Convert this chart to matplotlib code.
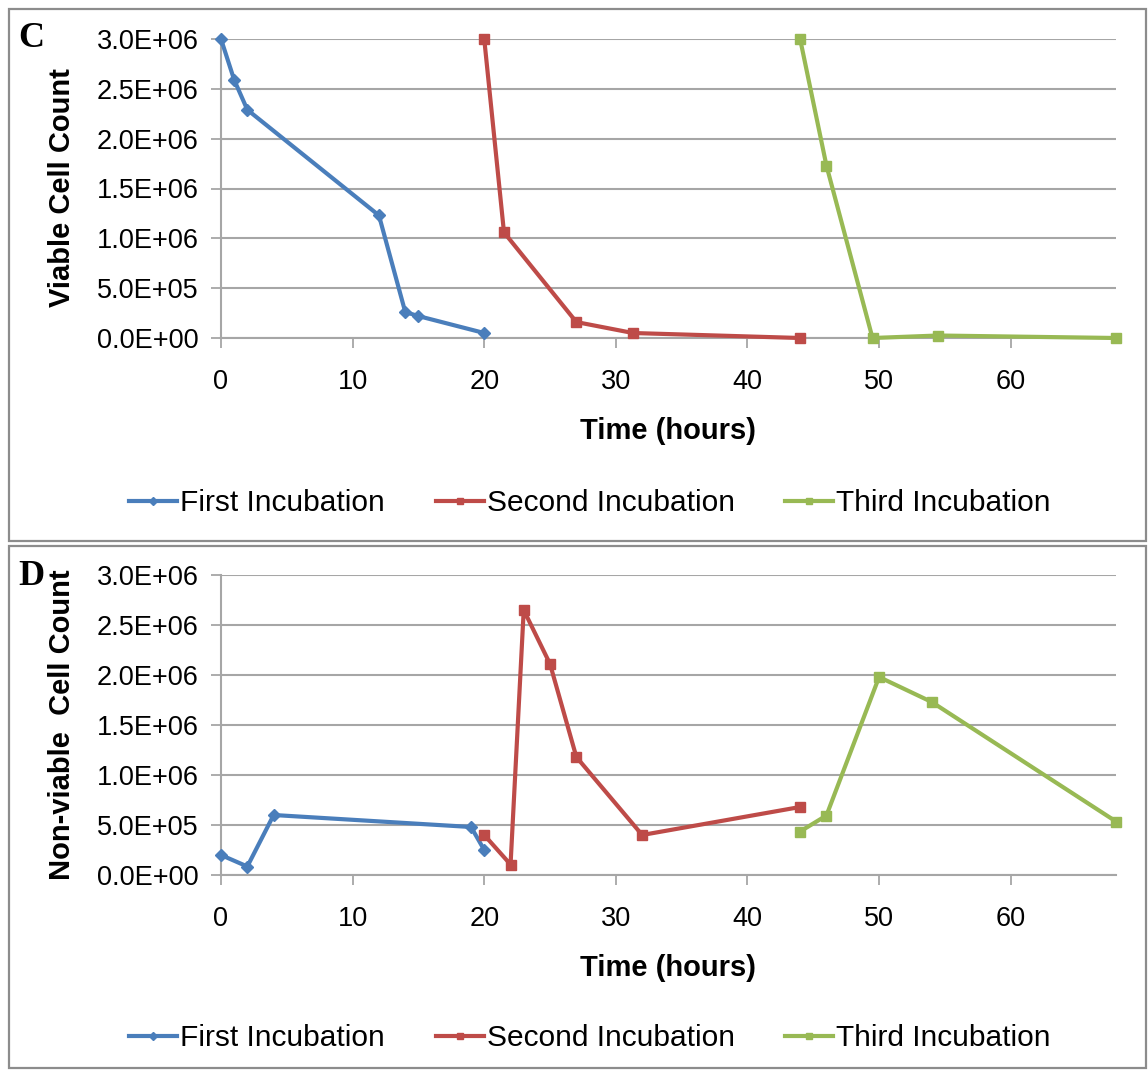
import matplotlib
matplotlib.use("Agg")
import matplotlib.pyplot as plt
from matplotlib.lines import Line2D
from matplotlib.patches import Rectangle
from matplotlib.ticker import FuncFormatter, MultipleLocator

plt.rcParams['font.family'] = ['Liberation Sans', 'DejaVu Sans']

# ---------------- data ----------------
series_names = ["First Incubation", "Second Incubation", "Third Incubation"]

# Panel C: viable cell count
viable_first_t = [0, 1, 2, 12, 14, 15, 20]
viable_first = [3.0e6, 2.59e6, 2.29e6, 1.23e6, 2.6e5, 2.2e5, 5.0e4]
viable_second_t = [20, 21.5, 27, 31.3, 44]
viable_second = [3.0e6, 1.06e6, 1.6e5, 5.0e4, 0.0]
viable_third_t = [44, 46, 49.5, 54.5, 68]
viable_third = [3.0e6, 1.73e6, 0.0, 2.5e4, 0.0]

# Panel D: non-viable cell count
nonviable_first_t = [0, 2, 4, 19, 20]
nonviable_first = [2.0e5, 8.5e4, 6.0e5, 4.8e5, 2.5e5]
nonviable_second_t = [20, 22, 23, 25, 27, 32, 44]
nonviable_second = [4.0e5, 1.05e5, 2.65e6, 2.11e6, 1.18e6, 4.0e5, 6.8e5]
nonviable_third_t = [44, 46, 50, 54, 68]
nonviable_third = [4.35e5, 5.95e5, 1.98e6, 1.73e6, 5.35e5]

x_ticks = [0, 10, 20, 30, 40, 50, 60]
panel_letters = ["C", "D"]
y_labels = ["Viable Cell Count", "Non-viable  Cell Count"]
x_label = "Time (hours)"

# ---------------- style ----------------
colors = ["#4A7EBB", "#BE4B48", "#98B954"]
markers = ["D", "s", "s"]
msizes = [6.5, 7.5, 7.5]
grid_col = "#A6A6A6"

W, H = 1148, 1072
fig = plt.figure(figsize=(W / 100, H / 100), dpi=100)

def fx(px):
    return px / W

def fy(py):
    return 1 - py / H

# panel border boxes
for (x0, y0, x1, y1) in [(9, 9, 1146, 541), (9, 546, 1146, 1068)]:
    fig.add_artist(Rectangle((fx(x0), fy(y1)), fx(x1) - fx(x0), fy(y0) - fy(y1),
                             transform=fig.transFigure, fill=False,
                             edgecolor="#8C8C8C", linewidth=1.6))

panels = [
    dict(top=39, bot=338, xlab_y=431, leg_y=503, letter_y=47, ylab_y=188,
         data=[(viable_first_t, viable_first), (viable_second_t, viable_second),
               (viable_third_t, viable_third)]),
    dict(top=575, bot=875, xlab_y=968, leg_y=1038, letter_y=585, ylab_y=725,
         data=[(nonviable_first_t, nonviable_first), (nonviable_second_t, nonviable_second),
               (nonviable_third_t, nonviable_third)]),
]

fmt = FuncFormatter(lambda v, p: f"{v:.1E}")

for i, pnl in enumerate(panels):
    left, right = 221, 1116
    ax = fig.add_axes([fx(left), fy(pnl["bot"]), fx(right) - fx(left),
                       fy(pnl["top"]) - fy(pnl["bot"])])
    for k, (t, v) in enumerate(pnl["data"]):
        ax.plot(t, v, color=colors[k], lw=3.0, marker=markers[k], ms=msizes[k],
                clip_on=False, zorder=3, solid_joinstyle="round")
    ax.set_xlim(0, 68)
    ax.set_ylim(0, 3.0e6)
    ax.set_xticks(x_ticks)
    ax.yaxis.set_major_locator(MultipleLocator(5e5))
    ax.yaxis.set_major_formatter(fmt)
    ax.grid(axis="y", color=grid_col, lw=1.5)
    ax.set_axisbelow(True)
    for s in ["top", "right"]:
        ax.spines[s].set_visible(False)
    for s in ["left", "bottom"]:
        ax.spines[s].set_color(grid_col)
        ax.spines[s].set_linewidth(1.5)
    ax.tick_params(axis="both", colors=grid_col, length=7, width=1.3,
                   labelcolor="#000000", labelsize=19.5)
    ax.tick_params(axis="y", pad=9)
    ax.tick_params(axis="x", pad=15)

    fig.text(fx(668), fy(pnl["xlab_y"]), x_label, ha="center", va="center",
             fontsize=21, fontweight="bold")
    fig.text(fx(62), fy(pnl["ylab_y"]), y_labels[i], ha="center", va="center",
             rotation=90, fontsize=21, fontweight="bold")
    fig.text(fx(18), fy(pnl["letter_y"]), panel_letters[i], ha="left", va="baseline",
             fontsize=26, fontweight="bold", family=["Liberation Serif", "DejaVu Serif"])

    handles = [Line2D([], [], color=colors[k], lw=3.0, marker=markers[k],
                      ms=msizes[k] * 0.6) for k in range(3)]
    fig.legend(handles, series_names, loc="center", ncol=3,
               bbox_to_anchor=(fx(590), fy(pnl["leg_y"])), frameon=False,
               fontsize=21.5, handlelength=1.6, handletextpad=0.1,
               columnspacing=1.7, borderaxespad=0, borderpad=0)

fig.savefig("out.png", dpi=100)
